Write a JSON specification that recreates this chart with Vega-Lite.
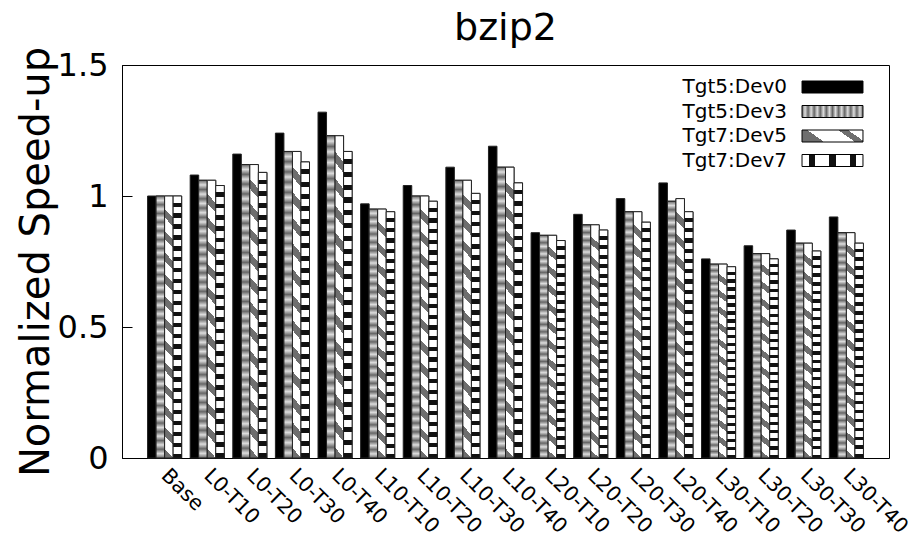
{
  "$schema": "https://vega.github.io/schema/vega-lite/v6.json",
  "width": 767,
  "height": 393,
  "autosize": {"type": "none"},
  "padding": {"left": 122, "top": 65, "right": 24, "bottom": 79},
  "background": "white",
  "title": {"text": "bzip2", "fontSize": 38, "font": "DejaVu Sans", "fontWeight": "normal", "color": "#000", "offset": 14, "dy": 16},
  "data": {"values": [
    {"g":"Base","s":"Tgt5:Dev0","v":1.00},{"g":"Base","s":"Tgt5:Dev3","v":1.00},{"g":"Base","s":"Tgt7:Dev5","v":1.00},{"g":"Base","s":"Tgt7:Dev7","v":1.00},
    {"g":"L0-T10","s":"Tgt5:Dev0","v":1.08},{"g":"L0-T10","s":"Tgt5:Dev3","v":1.06},{"g":"L0-T10","s":"Tgt7:Dev5","v":1.06},{"g":"L0-T10","s":"Tgt7:Dev7","v":1.04},
    {"g":"L0-T20","s":"Tgt5:Dev0","v":1.16},{"g":"L0-T20","s":"Tgt5:Dev3","v":1.12},{"g":"L0-T20","s":"Tgt7:Dev5","v":1.12},{"g":"L0-T20","s":"Tgt7:Dev7","v":1.09},
    {"g":"L0-T30","s":"Tgt5:Dev0","v":1.24},{"g":"L0-T30","s":"Tgt5:Dev3","v":1.17},{"g":"L0-T30","s":"Tgt7:Dev5","v":1.17},{"g":"L0-T30","s":"Tgt7:Dev7","v":1.13},
    {"g":"L0-T40","s":"Tgt5:Dev0","v":1.32},{"g":"L0-T40","s":"Tgt5:Dev3","v":1.23},{"g":"L0-T40","s":"Tgt7:Dev5","v":1.23},{"g":"L0-T40","s":"Tgt7:Dev7","v":1.17},
    {"g":"L10-T10","s":"Tgt5:Dev0","v":0.97},{"g":"L10-T10","s":"Tgt5:Dev3","v":0.95},{"g":"L10-T10","s":"Tgt7:Dev5","v":0.95},{"g":"L10-T10","s":"Tgt7:Dev7","v":0.94},
    {"g":"L10-T20","s":"Tgt5:Dev0","v":1.04},{"g":"L10-T20","s":"Tgt5:Dev3","v":1.00},{"g":"L10-T20","s":"Tgt7:Dev5","v":1.00},{"g":"L10-T20","s":"Tgt7:Dev7","v":0.98},
    {"g":"L10-T30","s":"Tgt5:Dev0","v":1.11},{"g":"L10-T30","s":"Tgt5:Dev3","v":1.06},{"g":"L10-T30","s":"Tgt7:Dev5","v":1.06},{"g":"L10-T30","s":"Tgt7:Dev7","v":1.01},
    {"g":"L10-T40","s":"Tgt5:Dev0","v":1.19},{"g":"L10-T40","s":"Tgt5:Dev3","v":1.11},{"g":"L10-T40","s":"Tgt7:Dev5","v":1.11},{"g":"L10-T40","s":"Tgt7:Dev7","v":1.05},
    {"g":"L20-T10","s":"Tgt5:Dev0","v":0.86},{"g":"L20-T10","s":"Tgt5:Dev3","v":0.85},{"g":"L20-T10","s":"Tgt7:Dev5","v":0.85},{"g":"L20-T10","s":"Tgt7:Dev7","v":0.83},
    {"g":"L20-T20","s":"Tgt5:Dev0","v":0.93},{"g":"L20-T20","s":"Tgt5:Dev3","v":0.89},{"g":"L20-T20","s":"Tgt7:Dev5","v":0.89},{"g":"L20-T20","s":"Tgt7:Dev7","v":0.87},
    {"g":"L20-T30","s":"Tgt5:Dev0","v":0.99},{"g":"L20-T30","s":"Tgt5:Dev3","v":0.94},{"g":"L20-T30","s":"Tgt7:Dev5","v":0.94},{"g":"L20-T30","s":"Tgt7:Dev7","v":0.90},
    {"g":"L20-T40","s":"Tgt5:Dev0","v":1.05},{"g":"L20-T40","s":"Tgt5:Dev3","v":0.98},{"g":"L20-T40","s":"Tgt7:Dev5","v":0.99},{"g":"L20-T40","s":"Tgt7:Dev7","v":0.94},
    {"g":"L30-T10","s":"Tgt5:Dev0","v":0.76},{"g":"L30-T10","s":"Tgt5:Dev3","v":0.74},{"g":"L30-T10","s":"Tgt7:Dev5","v":0.74},{"g":"L30-T10","s":"Tgt7:Dev7","v":0.73},
    {"g":"L30-T20","s":"Tgt5:Dev0","v":0.81},{"g":"L30-T20","s":"Tgt5:Dev3","v":0.78},{"g":"L30-T20","s":"Tgt7:Dev5","v":0.78},{"g":"L30-T20","s":"Tgt7:Dev7","v":0.76},
    {"g":"L30-T30","s":"Tgt5:Dev0","v":0.87},{"g":"L30-T30","s":"Tgt5:Dev3","v":0.82},{"g":"L30-T30","s":"Tgt7:Dev5","v":0.82},{"g":"L30-T30","s":"Tgt7:Dev7","v":0.79},
    {"g":"L30-T40","s":"Tgt5:Dev0","v":0.92},{"g":"L30-T40","s":"Tgt5:Dev3","v":0.86},{"g":"L30-T40","s":"Tgt7:Dev5","v":0.86},{"g":"L30-T40","s":"Tgt7:Dev7","v":0.82}
  ]},
  "encoding": {
    "x": {
      "field": "g", "type": "nominal", "sort": null,
      "scale": {"paddingInner": 0.2, "paddingOuter": 0.6},
      "axis": {"title": null, "domain": false, "ticks": false, "labelAngle": 45, "labelAlign": "left", "labelBaseline": "middle", "labelFontSize": 20.5, "labelPadding": 14, "labelColor": "#000", "labelFont": "DejaVu Sans", "labelOverlap": false, "labelLimit": 0}
    },
    "xOffset": {"field": "s", "type": "nominal", "scale": {"domain": ["Tgt5:Dev0", "Tgt5:Dev3", "Tgt7:Dev5", "Tgt7:Dev7"], "paddingInner": 0, "paddingOuter": 0}},
    "y": {
      "field": "v", "type": "quantitative",
      "scale": {"domain": [0, 1.5], "nice": false, "zero": true},
      "axis": {"title": "Normalized Speed-up", "titleFontSize": 40, "titleFont": "DejaVu Sans", "titleFontWeight": "normal", "titleColor": "#000", "titlePadding": 1, "values": [0, 0.5, 1, 1.5], "format": "~g", "labelFontSize": 32, "labelColor": "#000", "labelFont": "DejaVu Sans", "tickSize": -10, "tickColor": "#000", "labelPadding": 24, "domainColor": "#000", "grid": false, "labelFlush": false, "labelOverlap": false}
    }
  },
  "layer": [
    {
      "mark": {"type": "bar", "stroke": "#222", "strokeWidth": 1},
      "encoding": {
        "fill": {
          "field": "s", "type": "nominal",
          "scale": {"domain": ["Tgt5:Dev0", "Tgt5:Dev3", "Tgt7:Dev5", "Tgt7:Dev7"], "range": [
            "#000000",
            {"expr": "{gradient:'linear',x1:0,y1:0,x2:1,y2:0,stops:[{offset:0,color:'#666'},{offset:0.05,color:'#ddd'},{offset:0.1,color:'#666'},{offset:0.15,color:'#ddd'},{offset:0.2,color:'#666'},{offset:0.25,color:'#ddd'},{offset:0.3,color:'#666'},{offset:0.35,color:'#ddd'},{offset:0.4,color:'#666'},{offset:0.45,color:'#ddd'},{offset:0.5,color:'#666'},{offset:0.55,color:'#ddd'},{offset:0.6,color:'#666'},{offset:0.65,color:'#ddd'},{offset:0.7,color:'#666'},{offset:0.75,color:'#ddd'},{offset:0.8,color:'#666'},{offset:0.85,color:'#ddd'},{offset:0.9,color:'#666'},{offset:0.95,color:'#ddd'},{offset:1,color:'#666'}]}"},
            {"expr": "{gradient:'linear',x1:0,y1:0.28,x2:1,y2:0,stops:[{offset:0,color:'#6e6e6e'},{offset:0.15,color:'#6e6e6e'},{offset:0.15,color:'#fff'},{offset:0.62,color:'#fff'},{offset:0.62,color:'#6e6e6e'},{offset:0.77,color:'#6e6e6e'},{offset:0.77,color:'#fff'},{offset:1,color:'#fff'}]}"},
            {"expr": "{gradient:'linear',x1:0,y1:0,x2:1,y2:0,stops:[{offset:0,color:'#fff'},{offset:0.12,color:'#fff'},{offset:0.12,color:'#111'},{offset:0.22,color:'#111'},{offset:0.22,color:'#fff'},{offset:0.45,color:'#fff'},{offset:0.45,color:'#111'},{offset:0.55,color:'#111'},{offset:0.55,color:'#fff'},{offset:0.78,color:'#fff'},{offset:0.78,color:'#111'},{offset:0.88,color:'#111'},{offset:0.88,color:'#fff'},{offset:1,color:'#fff'}]}"}
          ]},
          "legend": {
            "title": null, "orient": "none", "legendX": 698, "legendY": 9.5, "padding": 0,
            "symbolType": "M-2.54,-0.5H2.54V0.5H-2.54Z", "symbolSize": 576,
            "symbolStrokeColor": "#000", "symbolStrokeWidth": 1,
            "labelFontSize": 20, "labelFont": "DejaVu Sans", "labelColor": "#000",
            "labelAlign": "right", "labelOffset": -58, "labelLimit": 0, "rowPadding": 1.5
          }
        }
      }
    },
    {
      "transform": [{"filter": "datum.s == 'Tgt5:Dev3'"}],
      "mark": {"type": "bar", "stroke": "#222", "strokeWidth": 1, "fill": {"gradient": "linear", "x1": 0, "y1": 0, "x2": 0, "y2": 1, "stops": [
        {"offset": 0, "color": "#666"},{"offset": 0.0167, "color": "#ddd"},{"offset": 0.0333, "color": "#666"},{"offset": 0.05, "color": "#ddd"},{"offset": 0.0667, "color": "#666"},{"offset": 0.0833, "color": "#ddd"},{"offset": 0.1, "color": "#666"},{"offset": 0.1167, "color": "#ddd"},{"offset": 0.1333, "color": "#666"},{"offset": 0.15, "color": "#ddd"},
        {"offset": 0.1667, "color": "#666"},{"offset": 0.1833, "color": "#ddd"},{"offset": 0.2, "color": "#666"},{"offset": 0.2167, "color": "#ddd"},{"offset": 0.2333, "color": "#666"},{"offset": 0.25, "color": "#ddd"},{"offset": 0.2667, "color": "#666"},{"offset": 0.2833, "color": "#ddd"},{"offset": 0.3, "color": "#666"},{"offset": 0.3167, "color": "#ddd"},
        {"offset": 0.3333, "color": "#666"},{"offset": 0.35, "color": "#ddd"},{"offset": 0.3667, "color": "#666"},{"offset": 0.3833, "color": "#ddd"},{"offset": 0.4, "color": "#666"},{"offset": 0.4167, "color": "#ddd"},{"offset": 0.4333, "color": "#666"},{"offset": 0.45, "color": "#ddd"},{"offset": 0.4667, "color": "#666"},{"offset": 0.4833, "color": "#ddd"},
        {"offset": 0.5, "color": "#666"},{"offset": 0.5167, "color": "#ddd"},{"offset": 0.5333, "color": "#666"},{"offset": 0.55, "color": "#ddd"},{"offset": 0.5667, "color": "#666"},{"offset": 0.5833, "color": "#ddd"},{"offset": 0.6, "color": "#666"},{"offset": 0.6167, "color": "#ddd"},{"offset": 0.6333, "color": "#666"},{"offset": 0.65, "color": "#ddd"},
        {"offset": 0.6667, "color": "#666"},{"offset": 0.6833, "color": "#ddd"},{"offset": 0.7, "color": "#666"},{"offset": 0.7167, "color": "#ddd"},{"offset": 0.7333, "color": "#666"},{"offset": 0.75, "color": "#ddd"},{"offset": 0.7667, "color": "#666"},{"offset": 0.7833, "color": "#ddd"},{"offset": 0.8, "color": "#666"},{"offset": 0.8167, "color": "#ddd"},
        {"offset": 0.8333, "color": "#666"},{"offset": 0.85, "color": "#ddd"},{"offset": 0.8667, "color": "#666"},{"offset": 0.8833, "color": "#ddd"},{"offset": 0.9, "color": "#666"},{"offset": 0.9167, "color": "#ddd"},{"offset": 0.9333, "color": "#666"},{"offset": 0.95, "color": "#ddd"},{"offset": 0.9667, "color": "#666"},{"offset": 0.9833, "color": "#ddd"},
        {"offset": 1, "color": "#666"}
      ]}}
    },
    {
      "transform": [{"filter": "datum.s == 'Tgt7:Dev5'"}],
      "mark": {"type": "bar", "stroke": "#222", "strokeWidth": 1, "fill": {"gradient": "linear", "x1": 0.033, "y1": 0, "x2": 0, "y2": 1, "stops": [
        {"offset": 0, "color": "#fff"},{"offset": 0.05, "color": "#fff"},{"offset": 0.05, "color": "#6e6e6e"},{"offset": 0.0833, "color": "#6e6e6e"},
        {"offset": 0.0833, "color": "#fff"},{"offset": 0.1333, "color": "#fff"},{"offset": 0.1333, "color": "#6e6e6e"},{"offset": 0.1667, "color": "#6e6e6e"},
        {"offset": 0.1667, "color": "#fff"},{"offset": 0.2167, "color": "#fff"},{"offset": 0.2167, "color": "#6e6e6e"},{"offset": 0.25, "color": "#6e6e6e"},
        {"offset": 0.25, "color": "#fff"},{"offset": 0.3, "color": "#fff"},{"offset": 0.3, "color": "#6e6e6e"},{"offset": 0.3333, "color": "#6e6e6e"},
        {"offset": 0.3333, "color": "#fff"},{"offset": 0.3833, "color": "#fff"},{"offset": 0.3833, "color": "#6e6e6e"},{"offset": 0.4167, "color": "#6e6e6e"},
        {"offset": 0.4167, "color": "#fff"},{"offset": 0.4667, "color": "#fff"},{"offset": 0.4667, "color": "#6e6e6e"},{"offset": 0.5, "color": "#6e6e6e"},
        {"offset": 0.5, "color": "#fff"},{"offset": 0.55, "color": "#fff"},{"offset": 0.55, "color": "#6e6e6e"},{"offset": 0.5833, "color": "#6e6e6e"},
        {"offset": 0.5833, "color": "#fff"},{"offset": 0.6333, "color": "#fff"},{"offset": 0.6333, "color": "#6e6e6e"},{"offset": 0.6667, "color": "#6e6e6e"},
        {"offset": 0.6667, "color": "#fff"},{"offset": 0.7167, "color": "#fff"},{"offset": 0.7167, "color": "#6e6e6e"},{"offset": 0.75, "color": "#6e6e6e"},
        {"offset": 0.75, "color": "#fff"},{"offset": 0.8, "color": "#fff"},{"offset": 0.8, "color": "#6e6e6e"},{"offset": 0.8333, "color": "#6e6e6e"},
        {"offset": 0.8333, "color": "#fff"},{"offset": 0.8833, "color": "#fff"},{"offset": 0.8833, "color": "#6e6e6e"},{"offset": 0.9167, "color": "#6e6e6e"},
        {"offset": 0.9167, "color": "#fff"},{"offset": 0.9667, "color": "#fff"},{"offset": 0.9667, "color": "#6e6e6e"},{"offset": 1, "color": "#6e6e6e"}
      ]}}
    },
    {
      "transform": [{"filter": "datum.s == 'Tgt7:Dev7'"}],
      "mark": {"type": "bar", "stroke": "#222", "strokeWidth": 1, "fill": {"gradient": "linear", "x1": 0, "y1": 0, "x2": 0, "y2": 1, "stops": [
        {"offset": 0, "color": "#fff"},{"offset": 0.025, "color": "#fff"},{"offset": 0.025, "color": "#111"},{"offset": 0.0417, "color": "#111"},
        {"offset": 0.0417, "color": "#fff"},{"offset": 0.0667, "color": "#fff"},{"offset": 0.0667, "color": "#111"},{"offset": 0.0833, "color": "#111"},
        {"offset": 0.0833, "color": "#fff"},{"offset": 0.1083, "color": "#fff"},{"offset": 0.1083, "color": "#111"},{"offset": 0.125, "color": "#111"},
        {"offset": 0.125, "color": "#fff"},{"offset": 0.15, "color": "#fff"},{"offset": 0.15, "color": "#111"},{"offset": 0.1667, "color": "#111"},
        {"offset": 0.1667, "color": "#fff"},{"offset": 0.1917, "color": "#fff"},{"offset": 0.1917, "color": "#111"},{"offset": 0.2083, "color": "#111"},
        {"offset": 0.2083, "color": "#fff"},{"offset": 0.2333, "color": "#fff"},{"offset": 0.2333, "color": "#111"},{"offset": 0.25, "color": "#111"},
        {"offset": 0.25, "color": "#fff"},{"offset": 0.275, "color": "#fff"},{"offset": 0.275, "color": "#111"},{"offset": 0.2917, "color": "#111"},
        {"offset": 0.2917, "color": "#fff"},{"offset": 0.3167, "color": "#fff"},{"offset": 0.3167, "color": "#111"},{"offset": 0.3333, "color": "#111"},
        {"offset": 0.3333, "color": "#fff"},{"offset": 0.3583, "color": "#fff"},{"offset": 0.3583, "color": "#111"},{"offset": 0.375, "color": "#111"},
        {"offset": 0.375, "color": "#fff"},{"offset": 0.4, "color": "#fff"},{"offset": 0.4, "color": "#111"},{"offset": 0.4167, "color": "#111"},
        {"offset": 0.4167, "color": "#fff"},{"offset": 0.4417, "color": "#fff"},{"offset": 0.4417, "color": "#111"},{"offset": 0.4583, "color": "#111"},
        {"offset": 0.4583, "color": "#fff"},{"offset": 0.4833, "color": "#fff"},{"offset": 0.4833, "color": "#111"},{"offset": 0.5, "color": "#111"},
        {"offset": 0.5, "color": "#fff"},{"offset": 0.525, "color": "#fff"},{"offset": 0.525, "color": "#111"},{"offset": 0.5417, "color": "#111"},
        {"offset": 0.5417, "color": "#fff"},{"offset": 0.5667, "color": "#fff"},{"offset": 0.5667, "color": "#111"},{"offset": 0.5833, "color": "#111"},
        {"offset": 0.5833, "color": "#fff"},{"offset": 0.6083, "color": "#fff"},{"offset": 0.6083, "color": "#111"},{"offset": 0.625, "color": "#111"},
        {"offset": 0.625, "color": "#fff"},{"offset": 0.65, "color": "#fff"},{"offset": 0.65, "color": "#111"},{"offset": 0.6667, "color": "#111"},
        {"offset": 0.6667, "color": "#fff"},{"offset": 0.6917, "color": "#fff"},{"offset": 0.6917, "color": "#111"},{"offset": 0.7083, "color": "#111"},
        {"offset": 0.7083, "color": "#fff"},{"offset": 0.7333, "color": "#fff"},{"offset": 0.7333, "color": "#111"},{"offset": 0.75, "color": "#111"},
        {"offset": 0.75, "color": "#fff"},{"offset": 0.775, "color": "#fff"},{"offset": 0.775, "color": "#111"},{"offset": 0.7917, "color": "#111"},
        {"offset": 0.7917, "color": "#fff"},{"offset": 0.8167, "color": "#fff"},{"offset": 0.8167, "color": "#111"},{"offset": 0.8333, "color": "#111"},
        {"offset": 0.8333, "color": "#fff"},{"offset": 0.8583, "color": "#fff"},{"offset": 0.8583, "color": "#111"},{"offset": 0.875, "color": "#111"},
        {"offset": 0.875, "color": "#fff"},{"offset": 0.9, "color": "#fff"},{"offset": 0.9, "color": "#111"},{"offset": 0.9167, "color": "#111"},
        {"offset": 0.9167, "color": "#fff"},{"offset": 0.9417, "color": "#fff"},{"offset": 0.9417, "color": "#111"},{"offset": 0.9583, "color": "#111"},
        {"offset": 0.9583, "color": "#fff"},{"offset": 0.9833, "color": "#fff"},{"offset": 0.9833, "color": "#111"},{"offset": 1, "color": "#111"}
      ]}}
    }
  ],
  "config": {"view": {"stroke": "#000", "strokeWidth": 1}, "font": "DejaVu Sans"}
}
